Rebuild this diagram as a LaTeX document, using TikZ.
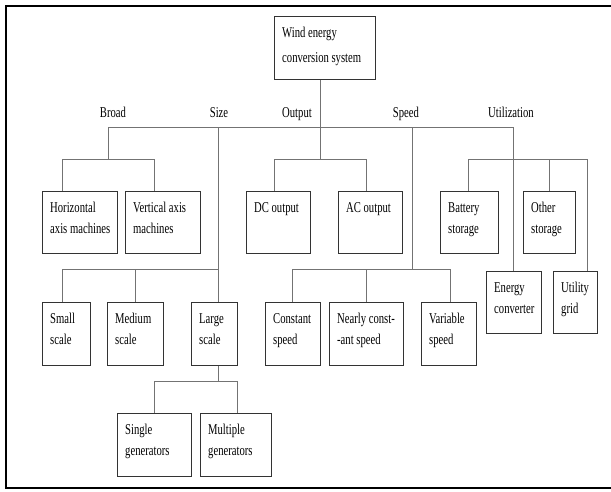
\documentclass[tikz,border=0pt]{standalone}
\usepackage{fontspec}
\setmainfont{Liberation Serif}
\usepackage{graphicx}
\newcommand{\sqt}[1]{\scalebox{0.71}[1]{\begin{tabular}[t]{@{}l@{}}#1\end{tabular}}}
\tikzset{
  bx/.style={draw=black!80, line width=0.9pt, inner sep=0pt, anchor=north west},
  txt/.style={inner sep=0pt, anchor=base west, font=\fontsize{15}{21}\selectfont},
  lbl/.style={inner sep=0pt, anchor=base, font=\fontsize{15}{21}\selectfont},
  conn/.style={draw=black!55, line width=0.9pt},
  frame/.style={draw=black, line width=2.4pt}
}
\newcommand{\mybox}[6]{%
  \node[bx, minimum width={(#4-#2)*1pt}, minimum height={(#5-#3)*1pt}] (#1) at (#2,#3) {};
  \node[txt] (#1t) at ([shift={(8pt,-21.5pt)}]#1.north west) {\sqt{#6}};
}
\begin{document}
\begin{tikzpicture}[x=1pt,y=-1pt]
\useasboundingbox (0,0) rectangle (611,491);
\draw[frame] (613,6) -- (6,6) -- (6,488) -- (613,488);

% boxes
\mybox{wecs}{274}{16}{375}{79}{Wind energy\\[4pt]conversion system}
\mybox{hor}{42}{191}{117}{253}{Horizontal\\axis machines}
\mybox{ver}{125}{191}{200}{253}{Vertical axis\\machines}
\mybox{dc}{246}{191}{310}{253}{DC output}
\mybox{ac}{338}{191}{402}{253}{AC output}
\mybox{bat}{440}{191}{498}{253}{Battery\\storage}
\mybox{oth}{523}{191}{575}{253}{Other\\storage}
\mybox{ene}{486}{271}{541}{333}{Energy\\converter}
\mybox{uti}{553}{271}{597}{333}{Utility\\grid}
\mybox{sma}{42}{302}{90}{365}{Small\\scale}
\mybox{med}{107}{302}{163}{365}{Medium\\scale}
\mybox{lar}{191}{302}{237}{365}{Large\\scale}
\mybox{con}{265}{302}{320}{365}{Constant\\speed}
\mybox{nea}{329}{302}{403}{365}{Nearly const-\\-ant speed}
\mybox{var}{421}{302}{476}{365}{Variable\\speed}
\mybox{sin}{117}{413}{191}{476}{Single\\generators}
\mybox{mul}{200}{413}{271}{476}{Multiple\\generators}

% category labels
\node[lbl] (lbroad) at (113,117) {\sqt{Broad}};
\node[lbl] (lsize)  at (219,117) {\sqt{Size}};
\node[lbl] (lout)   at (297,117) {\sqt{Output}};
\node[lbl] (lspeed) at (406,117) {\sqt{Speed}};
\node[lbl] (lutil)  at (511,117) {\sqt{Utilization}};

% main bus
\coordinate (jB) at (108,127);
\coordinate (jS) at (218.6,127);
\coordinate (jO) at (320,127);
\coordinate (jP) at (412,127);
\coordinate (jU) at (513,127);
\draw[conn] (jO |- wecs.south) -- (jO);
\draw[conn] (jB) -- (jU);

% Broad
\coordinate (kB) at (108,159);
\coordinate (kB1) at (62,159);
\coordinate (kB2) at (154,159);
\draw[conn] (jB) -- (kB);
\draw[conn] (kB1) -- (kB2);
\draw[conn] (kB1) -- (kB1 |- hor.north);
\draw[conn] (kB2) -- (kB2 |- ver.north);

% Size
\coordinate (kS1) at (62,269);
\coordinate (kS2) at (135,269);
\coordinate (kS3) at (218.6,269);
\draw[conn] (jS) -- (jS |- lar.north);
\draw[conn] (kS1) -- (kS3);
\draw[conn] (kS1) -- (kS1 |- sma.north);
\draw[conn] (kS2) -- (kS2 |- med.north);

% Large scale
\coordinate (kL) at (218.6,381);
\coordinate (kL1) at (154,381);
\coordinate (kL2) at (237,381);
\draw[conn] (kL |- lar.south) -- (kL);
\draw[conn] (kL1) -- (kL2);
\draw[conn] (kL1) -- (kL1 |- sin.north);
\draw[conn] (kL2) -- (kL2 |- mul.north);

% Output
\coordinate (kO) at (320,159);
\coordinate (kO1) at (274,159);
\coordinate (kO2) at (366,159);
\draw[conn] (jO) -- (kO);
\draw[conn] (kO1) -- (kO2);
\draw[conn] (kO1) -- (kO1 |- dc.north);
\draw[conn] (kO2) -- (kO2 |- ac.north);

% Speed
\coordinate (kP) at (412,269);
\coordinate (kP1) at (292,269);
\coordinate (kP2) at (366,269);
\coordinate (kP3) at (450,269);
\draw[conn] (jP) -- (kP);
\draw[conn] (kP1) -- (kP3);
\draw[conn] (kP1) -- (kP1 |- con.north);
\draw[conn] (kP2) -- (kP2 |- nea.north);
\draw[conn] (kP3) -- (kP3 |- var.north);

% Utilization
\coordinate (kU1) at (468,159);
\coordinate (kU2) at (549,159);
\coordinate (kU3) at (587,159);
\draw[conn] (jU) -- (jU |- ene.north);
\draw[conn] (kU1) -- (kU3);
\draw[conn] (kU1) -- (kU1 |- bat.north);
\draw[conn] (kU2) -- (kU2 |- oth.north);
\draw[conn] (kU3) -- (kU3 |- uti.north);
\end{tikzpicture}
\end{document}
